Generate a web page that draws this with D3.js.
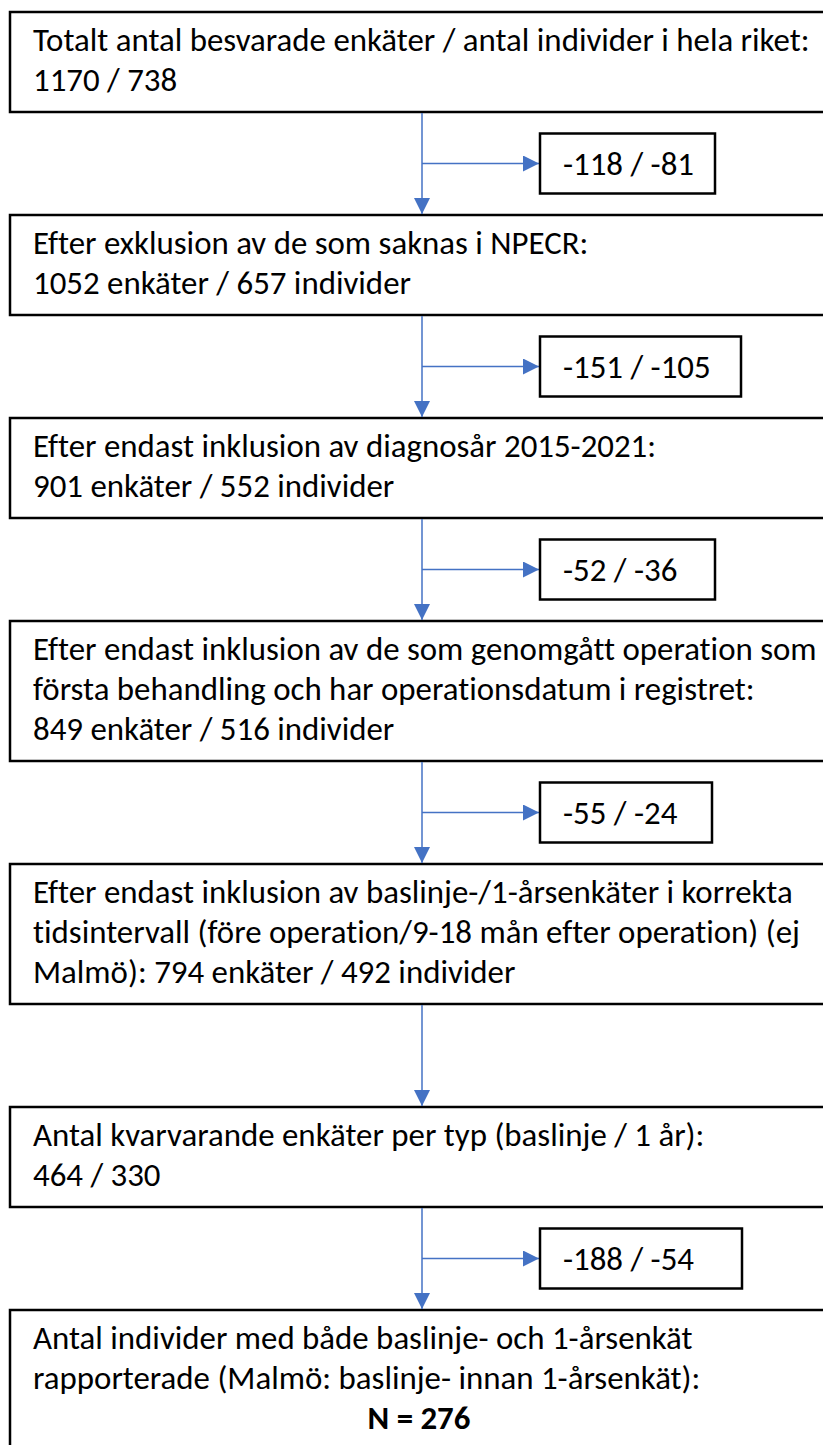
<!DOCTYPE html>
<html>
<head>
<meta charset="utf-8">
<script src="https://cdn.jsdelivr.net/npm/d3@7"></script>
<style>
  html, body { margin: 0; padding: 0; background: #fff; }
  svg { display: block; }
  text { font-variant-ligatures: none; font-feature-settings: "liga" 0; }
</style>
</head>
<body>
<div id="chart"></div>
<script>
"use strict";

// text of each step in the flow, one entry per line
const steps = [
  ["Totalt antal besvarade enkäter / antal individer i hela riket:", "1170 / 738"],
  ["Efter exklusion av de som saknas i NPECR:", "1052 enkäter / 657 individer"],
  ["Efter endast inklusion av diagnosår 2015-2021:", "901 enkäter / 552 individer"],
  [
    "Efter endast inklusion av de som genomgått operation som",
    "första behandling och har operationsdatum i registret:",
    "849 enkäter / 516 individer",
  ],
  [
    "Efter endast inklusion av baslinje-/1-årsenkäter i korrekta",
    "tidsintervall (före operation/9-18 mån efter operation) (ej",
    "Malmö): 794 enkäter / 492 individer",
  ],
  ["Antal kvarvarande enkäter per typ (baslinje / 1 år):", "464 / 330"],
  [
    "Antal individer med både baslinje- och 1-årsenkät",
    "rapporterade (Malmö: baslinje- innan 1-årsenkät):",
  ],
];
const finalCount = 276;

// removed between step i and i+1 (null = no side box)
const excludedSurveys = [118, 151, 52, 55, null, 188];
const excludedIndividuals = [81, 105, 36, 24, null, 54];

// layout
const W = 823;
const H = 1445;
const FONT = "Carlito, Calibri, Lato, 'Open Sans', sans-serif";
const boxLeft = 10;
const boxRight = 834;
const textX = 33;
const maxTextW = 784;
const top0 = 12;
const lineH = 40;
const firstBaseline = 39;
const padV = 20;
const gap = 103;
const stemX = 422;
const sideLeft = 540;
const sideH = 60;
const sideWidths = [175, 201, 175, 172, null, 202];
const sideTextPad = 23;
const blue = "#4472C4";

draw();

function draw() {
  const svg = d3
    .select("#chart")
    .append("svg")
    .attr("width", W)
    .attr("height", H);

  svg.append("rect").attr("width", W).attr("height", H).attr("fill", "#fff");

  // fit the font so the widest line spans like the original
  const probe = svg
    .append("text")
    .attr("font-family", FONT)
    .attr("font-size", 100);
  let widest = 0;
  steps.forEach((lines) =>
    lines.forEach((line) => {
      probe.text(line);
      widest = Math.max(widest, probe.node().getComputedTextLength());
    })
  );
  probe.remove();
  const fontSize = (100 * maxTextW) / widest;

  svg
    .append("defs")
    .append("marker")
    .attr("id", "arrow")
    .attr("viewBox", "0 0 16 16")
    .attr("refX", 16)
    .attr("refY", 8)
    .attr("markerWidth", 16)
    .attr("markerHeight", 16)
    .attr("markerUnits", "userSpaceOnUse")
    .attr("orient", "auto")
    .append("path")
    .attr("d", "M0,0 L16,8 L0,16 Z")
    .attr("fill", blue);

  // box positions from their line count
  let y = top0;
  const boxes = steps.map((lines, i) => {
    const n = lines.length + (i === steps.length - 1 ? 1 : 0);
    const b = { top: y, h: padV + lineH * n, lines: lines };
    y += b.h + gap;
    return b;
  });

  const g = svg.append("g");

  g.selectAll("rect.step")
    .data(boxes)
    .enter()
    .append("rect")
    .attr("class", "step")
    .attr("x", boxLeft)
    .attr("y", (d) => d.top)
    .attr("width", boxRight - boxLeft)
    .attr("height", (d) => d.h)
    .attr("fill", "#fff")
    .attr("stroke", "#000")
    .attr("stroke-width", 2.5);

  g.selectAll("text.step")
    .data(boxes)
    .enter()
    .append("text")
    .attr("class", "step")
    .attr("font-family", FONT)
    .attr("font-size", fontSize)
    .attr("fill", "#000")
    .each(function (d) {
      const t = d3.select(this);
      d.lines.forEach((line, j) => {
        t.append("tspan")
          .attr("x", textX)
          .attr("y", d.top + firstBaseline + lineH * j)
          .text(line);
      });
    });

  const last = boxes[boxes.length - 1];
  g.append("text")
    .attr("x", (boxLeft + boxRight) / 2 - 3)
    .attr("y", last.top + firstBaseline + lineH * last.lines.length)
    .attr("text-anchor", "middle")
    .attr("font-family", FONT)
    .attr("font-size", fontSize)
    .attr("font-weight", "bold")
    .text(`N = ${finalCount}`);

  // connectors and exclusion boxes
  const links = boxes.slice(0, -1).map((b, i) => {
    const y0 = b.top + b.h;
    const y1 = boxes[i + 1].top;
    return {
      y0: y0,
      y1: y1,
      cy: (y0 + y1) / 2,
      surveys: excludedSurveys[i],
      people: excludedIndividuals[i],
      w: sideWidths[i],
    };
  });

  g.selectAll("line.stem")
    .data(links)
    .enter()
    .append("line")
    .attr("class", "stem")
    .attr("x1", stemX)
    .attr("x2", stemX)
    .attr("y1", (d) => d.y0 + 1)
    .attr("y2", (d) => d.y1 - 1)
    .attr("stroke", blue)
    .attr("stroke-width", 1.5)
    .attr("marker-end", "url(#arrow)");

  const side = links.filter((d) => d.surveys !== null);

  g.selectAll("line.branch")
    .data(side)
    .enter()
    .append("line")
    .attr("class", "branch")
    .attr("x1", stemX)
    .attr("x2", sideLeft - 1)
    .attr("y1", (d) => d.cy)
    .attr("y2", (d) => d.cy)
    .attr("stroke", blue)
    .attr("stroke-width", 1.5)
    .attr("marker-end", "url(#arrow)");

  g.selectAll("rect.side")
    .data(side)
    .enter()
    .append("rect")
    .attr("class", "side")
    .attr("x", sideLeft)
    .attr("y", (d) => d.cy - sideH / 2)
    .attr("width", (d) => d.w)
    .attr("height", sideH)
    .attr("fill", "#fff")
    .attr("stroke", "#000")
    .attr("stroke-width", 2.5);

  g.selectAll("text.side")
    .data(side)
    .enter()
    .append("text")
    .attr("class", "side")
    .attr("x", sideLeft + sideTextPad)
    .attr("y", (d) => d.cy + fontSize * 0.36)
    .attr("font-family", FONT)
    .attr("font-size", fontSize)
    .attr("fill", "#000")
    .text((d) => `-${d.surveys} / -${d.people}`);
}
</script>
</body>
</html>
